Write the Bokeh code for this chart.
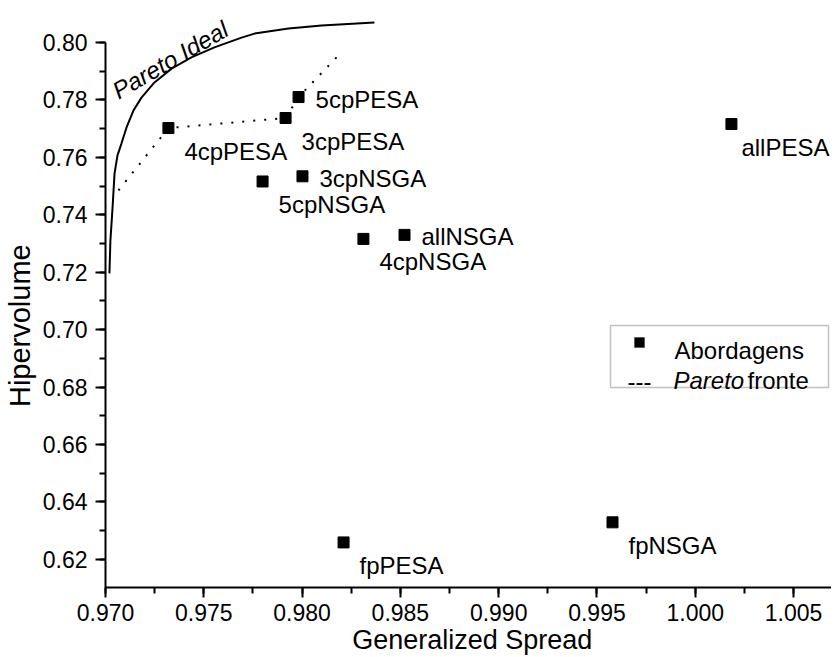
from bokeh.plotting import figure
from bokeh.models import (SingleIntervalTicker, PrintfTickFormatter, ColumnDataSource,
                          Label, BoxAnnotation, Range1d)
from bokeh.core.properties import value
from bokeh.embed import file_html
from bokeh.resources import INLINE

# ---------------- data ----------------
names = ["4cpPESA", "3cpPESA", "5cpPESA", "5cpNSGA", "3cpNSGA",
         "4cpNSGA", "allNSGA", "allPESA", "fpPESA", "fpNSGA"]
spread = [0.9732, 0.97916, 0.97982, 0.97799, 0.98002,
          0.98312, 0.98521, 1.00184, 0.98211, 0.99579]
hiper = [0.7702, 0.7737, 0.7810, 0.7516, 0.7534,
         0.7316, 0.7330, 0.7716, 0.6259, 0.6329]

front_x = [0.97066, 0.9732, 0.97916, 0.97982, 0.98185]
front_y = [0.7485, 0.7702, 0.7737, 0.7810, 0.7955]

ideal_x = [0.97020, 0.97025, 0.97036, 0.97046, 0.97061, 0.97081, 0.97107,
           0.97142, 0.97183, 0.97249, 0.97336, 0.97437, 0.97554, 0.97692,
           0.97758, 0.97931, 0.98099, 0.98368]
ideal_y = [0.7196, 0.7311, 0.7426, 0.7544, 0.7607, 0.7648, 0.7704,
           0.7763, 0.7808, 0.7861, 0.7909, 0.7948, 0.7983, 0.8017,
           0.8031, 0.8049, 0.8059, 0.8070]

x_ticks_interval = 0.005
y_ticks_interval = 0.02

# ---------------- layout ----------------
FONT = "Liberation Sans"
NB = "\u00a0"
X0, X1 = 0.970, 1.00693
Y0, Y1 = 0.6102, 0.8094
FW, FH = 726, 572


def fx(px):
    return X0 + px / FW * (X1 - X0)


def fy(py):
    return Y1 - py / FH * (Y1 - Y0)


p = figure(frame_width=FW, frame_height=FH, output_backend="svg", toolbar_location=None,
           x_range=Range1d(X0, X1), y_range=Range1d(Y0, Y1),
           min_border_left=99, min_border_top=15, min_border_right=0, min_border_bottom=10)
p.outline_line_color = None
p.grid.visible = False
p.background_fill_color = "white"
p.border_fill_color = "white"

p.xaxis.ticker = SingleIntervalTicker(interval=x_ticks_interval, num_minor_ticks=2)
p.yaxis.ticker = SingleIntervalTicker(interval=y_ticks_interval, num_minor_ticks=2)
p.xaxis.formatter = PrintfTickFormatter(format="%.3f")
p.yaxis.formatter = PrintfTickFormatter(format="%.2f")
p.xaxis.bounds = (X0, X1)
p.yaxis.bounds = (Y0, 0.80)

for ax in (p.xaxis, p.yaxis):
    ax.axis_line_width = 2
    ax.axis_line_color = "black"
    ax.major_tick_line_width = 2
    ax.minor_tick_line_width = 2
    ax.major_tick_line_color = "black"
    ax.minor_tick_line_color = "black"
    ax.major_tick_out = 10
    ax.major_tick_in = 0
    ax.minor_tick_out = 6
    ax.minor_tick_in = 0
    ax.major_label_text_font = FONT
    ax.major_label_text_font_size = "23px"
    ax.major_label_text_color = "black"
    ax.axis_label_text_font = FONT
    ax.axis_label_text_font_style = "normal"
    ax.axis_label_text_color = "black"

p.xaxis.axis_label_text_font_size = "27px"
p.yaxis.axis_label_text_font_size = "29px"
p.xaxis.axis_label = NB + "Generalized Spread"
p.yaxis.axis_label = "Hipervolume" + NB * 6
p.xaxis.major_label_standoff = 6
p.yaxis.major_label_standoff = 8
p.xaxis.axis_label_standoff = 1
p.yaxis.axis_label_standoff = 4

# Pareto ideal curve
p.line(ideal_x, ideal_y, line_color="black", line_width=2)
# Pareto front (dotted)
p.line(front_x, front_y, line_color="black", line_width=2, line_dash="2 9")

# points
below = {"4cpPESA", "3cpPESA", "5cpNSGA", "4cpNSGA", "allPESA", "fpPESA", "fpNSGA"}
src = ColumnDataSource(dict(
    x=spread, y=hiper, name=names,
    xo=[(10 if n == "allPESA" else 16) if n in below else 17 for n in names],
    yo=[23 if n in below else 2 for n in names],
))
p.scatter("x", "y", source=src, marker="square", size=11,
          fill_color="black", line_color="black")
p.text("x", "y", text="name", source=src, x_offset="xo", y_offset="yo",
       text_font=value(FONT), text_font_size=value("24px"), text_color="black",
       text_baseline="alphabetic", text_align="left")

# "Pareto Ideal" annotation
p.add_layout(Label(x=fx(9), y=fy(77), text="Pareto Ideal", angle=0.53,
                   text_font=FONT, text_font_size="24px", text_font_style="italic",
                   text_color="black", text_baseline="alphabetic"))

# manual legend
p.add_layout(BoxAnnotation(left=fx(505), right=fx(723), top=fy(310), bottom=fy(372),
                           fill_color="white", fill_alpha=1, line_color="#333333",
                           line_width=1.5, level="overlay"))
p.add_layout(BoxAnnotation(left=fx(529), right=fx(539), top=fy(322), bottom=fy(332),
                           fill_color="black", fill_alpha=1, line_color="black",
                           level="overlay"))
legend_texts = [
    ("Abordagens", 569, 335, "normal"),
    ("---", 522, 366, "normal"),
    ("Pareto", 568, 365, "italic"),
    ("fronte", 642, 365, "normal"),
]
for t, lx, ly, st in legend_texts:
    p.add_layout(Label(x=fx(lx), y=fy(ly), text=t, text_font=FONT, text_font_size="24px",
                       text_font_style=st, text_color="black", text_baseline="alphabetic",
                       level="overlay"))

open("out.html", "w").write(file_html(p, INLINE))
